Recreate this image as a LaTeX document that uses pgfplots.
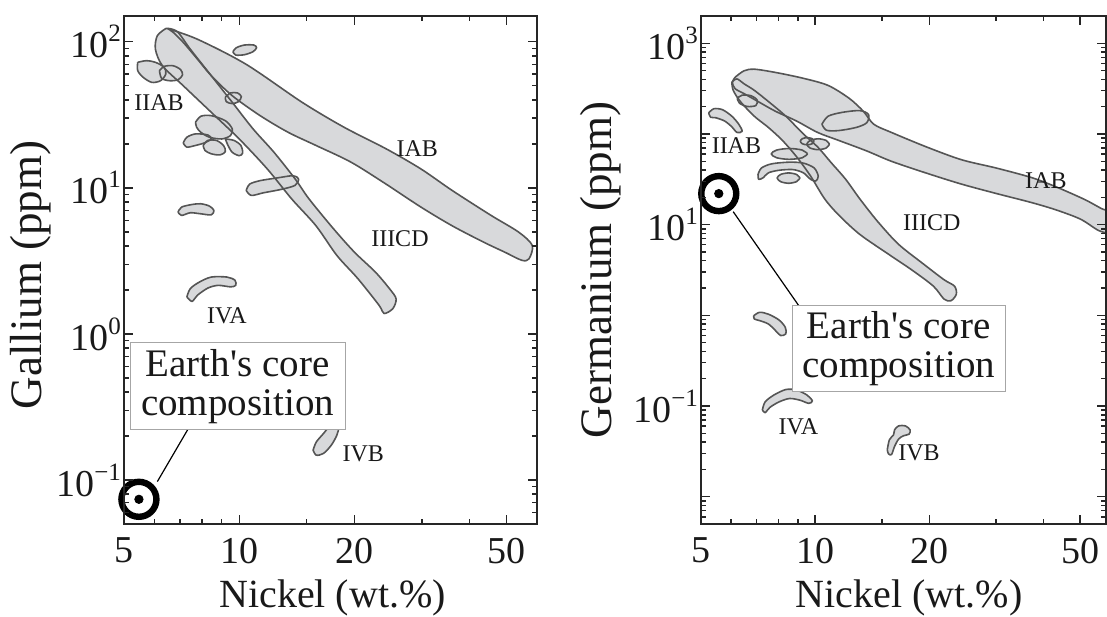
\documentclass[border=0pt]{standalone}
\usepackage{fontspec}
\setmainfont{Liberation Serif}
\usepackage{pgfplots}
\usepackage{pgfplotstable}
\pgfplotsset{compat=1.18}
\definecolor{blobfill}{RGB}{216,217,219}
\definecolor{blobline}{RGB}{85,85,85}
\definecolor{txt}{RGB}{25,25,25}
\newcommand{\sups}[1]{\raisebox{0.42em}{\fontsize{12.5}{12.5}\selectfont #1}}
\newcommand{\grp}{\fontsize{12}{12}\selectfont}
\tikzset{
  bfill/.style={fill=blobfill, draw=none, smooth},
  bedge/.style={draw=blobline, line width=0.8pt, smooth, line join=round},
}
% ---------------- Left panel (Gallium) ----------------
\pgfplotstableread{
x y
6.50 123
7.78 104
10.43 70
14.6 38.5
18.78 26.0
24.2 18.5
29.8 13.5
36.0 9.6
45.4 6.5
53.7 4.98
58.3 4.04
57.2 3.27
54.8 3.19
49.4 3.63
43.5 4.25
36.0 5.5
29.8 7.4
24.2 10.6
19.58 15.0
15.87 19.5
13.42 24.0
11.34 31.2
9.59 42.7
8.45 58.6
7.78 76
7.14 99
6.72 116
6.50 123
}\LIAB
\pgfplotstableread{
x y
6.43 123
6.11 110
6.04 89
6.30 68.5
7.14 50
8.45 32.9
10.0 21.6
11.83 13.5
13.71 8.4
15.87 5.5
17.99 3.45
20.42 2.39
23.2 1.57
23.9 1.38
25.2 1.49
25.7 1.74
24.7 2.04
22.69 2.65
20.0 3.63
17.63 5.25
15.22 8.4
14.0 11.5
12.33 17.5
10.87 25.3
9.59 38.5
8.45 58.6
7.45 89
6.92 116
6.58 123
6.43 123
}\LIIICD
\pgfplotstableread{
x y
9.63 85.5
9.83 91.0
10.32 94.9
10.92 94.9
11.1 91.0
10.87 85.5
10.32 81.5
9.79 81.1
9.63 85.5
}\LA
\pgfplotstableread{
x y
5.43 72.3
5.73 74.2
6.04 72.3
6.37 66.8
6.43 60.1
6.23 54.1
5.91 52.7
5.61 57.1
5.43 63.4
5.43 72.3
}\LB
\pgfplotstableread{
x y
6.19 63.4
6.37 67.8
6.72 68.5
7.03 64.4
7.11 59.2
6.92 54.9
6.58 54.1
6.27 56.1
6.19 63.4
}\LC
\pgfplotstableread{
x y
9.20 41.7
9.49 44.6
9.90 44.6
10.13 42.1
9.96 38.9
9.59 37.7
9.25 38.9
9.20 41.7
}\LD
\pgfplotstableread{
x y
7.69 28.1
7.94 30.9
8.45 31.2
9.20 28.8
9.59 25.3
9.49 22.8
9.0 21.6
8.36 22.2
7.94 24.0
7.74 26.0
7.69 28.1
}\LE
\pgfplotstableread{
x y
7.14 20.3
7.30 22.2
7.69 23.4
8.28 23.0
8.45 21.6
8.11 20.3
7.69 19.5
7.30 19.0
7.14 20.3
}\LF
\pgfplotstableread{
x y
8.05 19.5
8.28 21.1
8.72 21.1
9.10 19.5
9.20 17.7
8.91 16.8
8.45 17.1
8.14 18.0
8.05 19.5
}\LG
\pgfplotstableread{
x y
9.20 21.6
9.69 21.1
10.1 19.5
10.21 17.3
10.0 16.6
9.59 17.5
9.35 19.5
9.20 21.6
}\LH
\pgfplotstableread{
x y
10.43 9.6
10.65 10.6
11.34 11.2
12.6 11.7
13.83 12.1
14.29 11.5
14.0 10.4
12.86 9.75
11.58 9.25
10.76 8.87
10.43 9.6
}\LI
\pgfplotstableread{
x y
6.92 6.82
7.07 7.38
7.53 7.69
7.94 7.78
8.36 7.50
8.59 7.0
8.45 6.53
7.94 6.64
7.45 6.75
7.07 6.47
6.92 6.82
}\LJ
\pgfplotstableread{
x y
7.30 1.79
7.45 2.04
7.86 2.26
8.45 2.45
9.29 2.45
9.75 2.33
9.79 2.15
9.49 2.10
8.81 2.15
8.28 2.06
7.78 1.84
7.53 1.67
7.30 1.79
}\LK
\pgfplotstableread{
x y
15.6 0.160
15.9 0.182
16.6 0.208
17.3 0.237
17.8 0.246
18.2 0.231
18.0 0.203
17.4 0.173
16.6 0.152
15.9 0.148
15.6 0.160
}\LL
% ---------------- Right panel (Germanium) ----------------
\pgfplotstableread{
x y
6.15 422
6.49 497
6.91 518
7.86 477
9.31 411
10.82 343
12.30 247
13.4 178
14.28 128
15.89 104
19.66 72
24.32 52
30.12 42
37.27 33
43.3 26
51.3 19
57.0 15
59.5 14
61 11
60 8.2
56 8.6
50.1 11.5
43.3 14.5
37.27 17.5
30.12 22
24.32 28
19.66 37
15.89 50
13.68 65
11.53 85
10.15 104
8.93 139
7.86 178
7.07 228
6.49 279
6.15 316
6.05 370
6.15 422
}\RIAB
\pgfplotstableread{
x y
6.03 373
6.08 303
6.35 228
6.91 157
7.53 118
8.20 84.8
8.93 56.2
9.73 34.3
10.59 19.3
11.53 12.8
13.11 7.82
15.56 4.77
18.0 3.16
20.5 2.10
21.88 1.51
22.82 1.45
23.57 1.71
23.31 2.10
21.88 2.47
19.23 3.73
16.57 6.11
14.6 10.9
13.11 19.3
12.04 31.6
11.05 47.7
10.15 72
9.31 100
8.37 157
7.53 228
6.91 303
6.49 358
6.22 405
6.03 373
}\RIIICD
\pgfplotstableread{
x y
10.42 128
10.82 157
11.78 173
13.11 181
13.83 164
13.68 133
12.83 118
11.53 109
10.71 110
10.42 128
}\RA
\pgfplotstableread{
x y
6.23 247
6.42 268
6.78 264
7.03 237
6.98 206
6.62 201
6.32 218
6.23 247
}\RB
\pgfplotstableread{
x y
5.24 171
5.41 190
5.70 185
6.03 157
6.29 128
6.42 107
6.22 104
6.03 120
5.77 139
5.47 151
5.30 153
5.24 171
}\RC
\pgfplotstableread{
x y
9.93 83.2
9.82 88.7
9.53 91.2
9.25 88.7
9.14 83.2
9.25 78.0
9.53 75.9
9.82 78.0
9.93 83.2
}\RDa
\pgfplotstableread{
x y
10.91 77.1
10.69 84.9
10.19 88.5
9.70 84.9
9.51 77.1
9.70 70.0
10.19 67.1
10.69 70.0
10.91 77.1
}\RDb
\pgfplotstableread{
x y
9.55 60.3
9.25 66.4
8.55 69.2
7.91 66.4
7.66 60.3
7.91 54.7
8.55 52.5
9.25 54.7
9.55 60.3
}\RE
\pgfplotstableread{
x y
7.07 35.8
7.22 42.2
7.69 46.9
8.56 48.9
9.31 47.7
9.94 42.2
10.19 34.3
10.04 30.3
9.73 31.6
9.31 37.3
8.74 40.5
8.03 39.8
7.53 37.3
7.30 33.0
7.10 31.6
7.07 35.8
}\RFa
\pgfplotstableread{
x y
9.12 32.7
8.93 35.8
8.51 37.2
8.11 35.8
7.94 32.7
8.11 29.8
8.51 28.6
8.93 29.8
9.12 32.7
}\RFb
\pgfplotstableread{
x y
6.89 0.991
7.14 1.08
7.53 1.03
8.03 0.889
8.34 0.739
8.37 0.625
8.11 0.599
7.86 0.679
7.53 0.803
7.14 0.875
6.91 0.912
6.89 0.991
}\RG
\pgfplotstableread{
x y
7.26 0.0904
7.38 0.111
7.78 0.132
8.37 0.152
8.93 0.150
9.52 0.132
9.83 0.114
9.62 0.107
9.12 0.116
8.56 0.121
8.03 0.111
7.60 0.0967
7.38 0.0845
7.26 0.0904
}\RH
\pgfplotstableread{
x y
15.5 0.033
15.7 0.0425
16.1 0.0481
16.2 0.0546
16.6 0.0604
17.3 0.0604
17.8 0.0546
17.7 0.049
17.1 0.047
16.6 0.0432
16.2 0.0359
15.9 0.0291
15.6 0.0298
15.5 0.033
}\RI
\begin{document}
\begin{tikzpicture}
\useasboundingbox (0,0) rectangle (553.5pt,308pt);
% ===== Left =====
\begin{axis}[xmode=log, ymode=log, scale only axis, axis on top,
  clip mode=individual,
  at={(62pt,46pt)}, anchor=south west,
  width=206.5pt, height=254pt, xmin=5, xmax=60, ymin=0.05, ymax=150,
  axis line style={line width=1pt, black!85},
  tick align=inside,
  major tick length=4.5pt, minor tick length=2.5pt,
  tick style={black!85, line width=0.7pt},
  xtick={5,10,20,50}, xticklabels={5,10,20,50},
  minor xtick={6,7,8,9,15,30,40},
  tick label style={font=\fontsize{19}{19}\selectfont, text=txt},
  xticklabel style={yshift=-3.5pt},
  yticklabel style={xshift=2pt},
  xlabel style={font=\fontsize{20}{20}\selectfont, text=txt,
    at={(axis description cs:0.505,-0.146)}, anchor=center},
  xlabel={Nickel (wt.\%)},
  ytick={0.1,1,10,100},
  yticklabels={10\sups{−1},10\sups{0},10\sups{1},10\sups{2}},
  minor ytick={0.06,0.07,0.08,0.09,0.2,0.3,0.4,0.5,0.6,0.7,0.8,0.9,2,3,4,5,6,7,8,9,20,30,40,50,60,70,80,90},
  ylabel={Gallium (ppm)},
  ylabel style={font=\fontsize{22.5}{22.5}\selectfont, text=txt,
    at={(axis description cs:-0.225,0.49)}, anchor=center},
]
\addplot[bfill] table {\LIAB};
\addplot[bfill] table {\LIIICD};
\addplot[bfill] table {\LA};
\addplot[bfill] table {\LB};
\addplot[bfill] table {\LC};
\addplot[bfill] table {\LD};
\addplot[bfill] table {\LE};
\addplot[bfill] table {\LF};
\addplot[bfill] table {\LG};
\addplot[bfill] table {\LH};
\addplot[bfill] table {\LI};
\addplot[bfill] table {\LJ};
\addplot[bfill] table {\LK};
\addplot[bfill] table {\LL};
\addplot[bedge] table {\LIAB};
\addplot[bedge] table {\LIIICD};
\addplot[bedge] table {\LA};
\addplot[bedge] table {\LB};
\addplot[bedge] table {\LC};
\addplot[bedge] table {\LD};
\addplot[bedge] table {\LE};
\addplot[bedge] table {\LF};
\addplot[bedge] table {\LG};
\addplot[bedge] table {\LH};
\addplot[bedge] table {\LI};
\addplot[bedge] table {\LJ};
\addplot[bedge] table {\LK};
\addplot[bedge] table {\LL};
\node[font=\grp, text=txt] at (axis cs:6.17,38.5) {IIAB};
\node[font=\grp, text=txt] at (axis cs:29.2,18.5) {IAB};
\node[font=\grp, text=txt] at (axis cs:26.3,4.48) {IIICD};
\node[font=\grp, text=txt] at (axis cs:9.29,1.33) {IVA};
\node[font=\grp, text=txt] at (axis cs:21.1,0.152) {IVB};
\draw[black, line width=0.6pt] (axis cs:7.45,0.237) -- (axis cs:6.11,0.0975);
\node[draw=gray!70, line width=0.5pt, fill=white, align=center, inner sep=1pt,
  minimum width=107.5pt, minimum height=43.5pt, text=txt,
  font=\fontsize{19.5}{19.5}\selectfont] at (rel axis cs:0.275,0.271)
  {Earth\textquotesingle s core\\composition};
\addplot[only marks, mark=o, mark size=8.75pt, mark options={line width=3.2pt, draw=black}] coordinates {(5.47,0.0738)};
\addplot[only marks, mark=*, mark size=2.1pt, black] coordinates {(5.47,0.0738)};
\end{axis}
% ===== Right =====
\begin{axis}[xmode=log, ymode=log, scale only axis, axis on top,
  clip mode=individual,
  at={(350.5pt,46pt)}, anchor=south west,
  width=202.5pt, height=254pt, xmin=5, xmax=58.5, ymin=0.005, ymax=2000,
  axis line style={line width=1pt, black!85},
  tick align=inside,
  major tick length=4.5pt, minor tick length=2.5pt,
  tick style={black!85, line width=0.7pt},
  xtick={5,10,20,50}, xticklabels={5,10,20,50},
  minor xtick={6,7,8,9,15,30,40},
  tick label style={font=\fontsize{19}{19}\selectfont, text=txt},
  xticklabel style={yshift=-3.5pt},
  yticklabel style={xshift=2pt},
  xlabel style={font=\fontsize{20}{20}\selectfont, text=txt,
    at={(axis description cs:0.514,-0.146)}, anchor=center},
  xlabel={Nickel (wt.\%)},
  ytick={0.01,0.1,1,10,100,1000},
  yticklabels={,10\sups{−1},,10\sups{1},,10\sups{3}},
  minor ytick={0.006,0.007,0.008,0.009,0.02,0.03,0.04,0.05,0.06,0.07,0.08,0.09,0.2,0.3,0.4,0.5,0.6,0.7,0.8,0.9,2,3,4,5,6,7,8,9,20,30,40,50,60,70,80,90,200,300,400,500,600,700,800,900},
  ylabel={Germanium (ppm)},
  ylabel style={font=\fontsize{22.5}{22.5}\selectfont, text=txt,
    at={(axis description cs:-0.247,0.5)}, anchor=center},
]
\addplot[bfill] table {\RIAB};
\addplot[bfill] table {\RIIICD};
\addplot[bfill] table {\RA};
\addplot[bfill] table {\RB};
\addplot[bfill] table {\RC};
\addplot[bfill] table {\RDa};
\addplot[bfill] table {\RDb};
\addplot[bfill] table {\RE};
\addplot[bfill] table {\RFa};
\addplot[bfill] table {\RFb};
\addplot[bfill] table {\RG};
\addplot[bfill] table {\RH};
\addplot[bfill] table {\RI};
\addplot[bedge] table {\RIAB};
\addplot[bedge] table {\RIIICD};
\addplot[bedge] table {\RA};
\addplot[bedge] table {\RB};
\addplot[bedge] table {\RC};
\addplot[bedge] table {\RDa};
\addplot[bedge] table {\RDb};
\addplot[bedge] table {\RE};
\addplot[bedge] table {\RFa};
\addplot[bedge] table {\RFb};
\addplot[bedge] table {\RG};
\addplot[bedge] table {\RH};
\addplot[bedge] table {\RI};
\node[font=\grp, text=txt] at (axis cs:6.2,75) {IIAB};
\node[font=\grp, text=txt] at (axis cs:40.6,30.3) {IAB};
\node[font=\grp, text=txt] at (axis cs:20.3,10.4) {IIICD};
\node[font=\grp, text=txt] at (axis cs:9.03,0.0594) {IVA};
\node[font=\grp, text=txt] at (axis cs:18.8,0.0303) {IVB};
\draw[black, line width=0.6pt] (axis cs:6.08,13.9) -- (axis cs:9.1,1.24);
\node[draw=gray!70, line width=0.5pt, fill=white, align=center, inner sep=1pt,
  minimum width=106.5pt, minimum height=43pt, text=txt,
  font=\fontsize{19.5}{19.5}\selectfont] at (rel axis cs:0.488,0.346)
  {Earth\textquotesingle s core\\composition};
\addplot[only marks, mark=o, mark size=8.75pt, mark options={line width=3.2pt, draw=black}] coordinates {(5.57,22)};
\addplot[only marks, mark=*, mark size=2.1pt, black] coordinates {(5.57,22)};
\end{axis}
\end{tikzpicture}
\end{document}
